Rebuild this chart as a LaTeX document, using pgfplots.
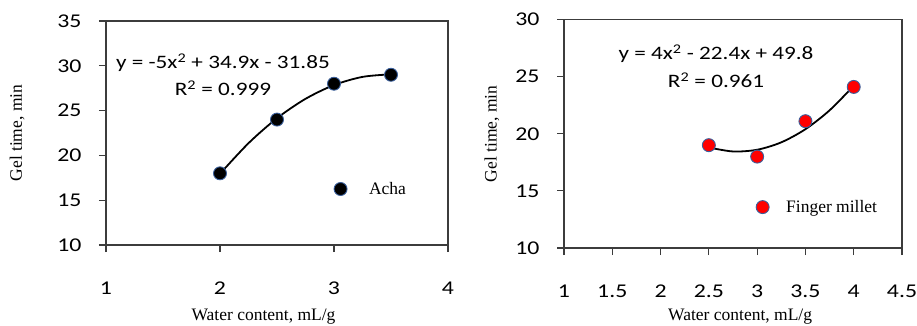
\documentclass[border=0pt]{standalone}
\usepackage{pgfplots}
\pgfplotsset{compat=1.18}
\usepackage{fontspec}
\setmainfont{Liberation Serif}
\newfontfamily\calfont{Carlito}[FakeStretch=1.22]
\definecolor{mkedge}{RGB}{58,95,156}
\definecolor{axgray}{RGB}{60,60,60}
\pgfplotsset{
  common/.style={
    scale only axis,
    axis line style={axgray, line width=1.2pt},
    every tick/.style={axgray, line width=1.2pt},
    tick align=outside,
    xtick pos=bottom, ytick pos=left,
    major tick length=7pt,
    minor tick num=0,
    /pgf/number format/assume math mode=true,
    tick label style={font=\calfont\fontsize{19.5}{19.5}\selectfont},
    xticklabel style={anchor=north, yshift=-26pt},
    yticklabel style={anchor=east, xshift=-14pt},
    label style={font=\fontsize{17.5}{18}\selectfont},
    legend style={draw=none, fill=none, font=\fontsize{17.5}{18}\selectfont, legend cell align=left},
  },
}
\begin{document}
\begin{tikzpicture}
\useasboundingbox (0pt,0pt) rectangle (917pt,325pt);
% Left: Acha
\begin{axis}[common,
  at={(106pt,80pt)}, anchor=south west,
  width=342pt, height=224pt,
  xmin=1, xmax=4, ymin=10, ymax=35,
  xtick={1,2,3,4}, ytick={10,15,20,25,30,35},
  xlabel={Water content, mL/g},
  ylabel={Gel time, min},
  xlabel style={at={(axis description cs:0.4605,0)}, anchor=base, yshift=-75pt},
  ylabel style={at={(axis description cs:-0.26,0.5)}, anchor=center},
  legend style={at={(axis description cs:0.6575,0.25)}, anchor=west},
]
\addplot[black, line width=1.8pt, smooth, forget plot] coordinates {
(2,17.95) (2.25,21.3625) (2.5,24.15) (2.75,26.3125) (3,27.85) (3.25,28.7625) (3.5,29.05)};
\addplot[only marks, mark=*, mark size=6.5pt, mark options={fill=black, draw=mkedge, line width=0.9pt}] coordinates {
(2,18) (2.5,24) (3,28) (3.5,29)};
\addlegendentry{\hspace*{20pt}Acha}
\node[font=\calfont\fontsize{19}{27}\selectfont, align=center] at (axis cs:2.026,29.03) {y = -5x\textsuperscript{2} + 34.9x - 31.85\\R\textsuperscript{2} = 0.999};
\end{axis}
% Right: Finger millet
\begin{axis}[common,
  at={(564pt,77pt)}, anchor=south west,
  width=338pt, height=228.5pt,
  xmin=1, xmax=4.5, ymin=10, ymax=30,
  xtick={1,1.5,2,2.5,3,3.5,4,4.5}, ytick={10,15,20,25,30},
  xticklabel style={/pgf/number format/.cd, fixed, precision=1},
  xlabel={Water content, mL/g},
  ylabel={Gel time, min},
  xlabel style={at={(axis description cs:0.521,0)}, anchor=base, yshift=-72pt},
  ylabel style={at={(axis description cs:-0.213,0.5)}, anchor=center},
  legend style={at={(axis description cs:0.559,0.179)}, anchor=west},
]
\addplot[black, line width=1.8pt, smooth, forget plot] coordinates {
(2.5,18.8) (2.75,18.45) (3,18.6) (3.25,19.25) (3.5,20.4) (3.75,22.05) (4,24.2)};
\addplot[only marks, mark=*, mark size=6.5pt, mark options={fill=red, draw=mkedge, line width=0.9pt}] coordinates {
(2.5,19) (3,18) (3.5,21.1) (4,24.1)};
\addlegendentry{\hspace*{15pt}Finger millet}
\node[font=\calfont\fontsize{19}{28}\selectfont, align=center] at (axis cs:2.574,25.93) {y = 4x\textsuperscript{2} - 22.4x + 49.8\\R\textsuperscript{2} = 0.961};
\end{axis}
\end{tikzpicture}
\end{document}
